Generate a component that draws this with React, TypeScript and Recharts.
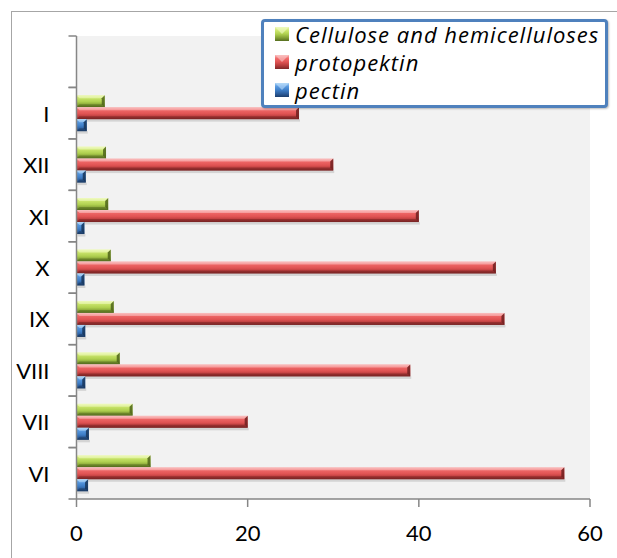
import { Bar, BarChart, CartesianGrid, Legend, XAxis, YAxis } from 'recharts';

// months, top slot is left empty like in the original sheet
const months = ['', 'I', 'XII', 'XI', 'X', 'IX', 'VIII', 'VII', 'VI'];
const cellulose = [null, 3.3, 3.45, 3.7, 4.0, 4.35, 5.05, 6.55, 8.65];
const protopektin = [null, 26, 30, 40, 49, 50, 39, 20, 57];
const pectin = [null, 1.2, 1.08, 0.92, 0.92, 1.02, 1.02, 1.45, 1.35];
const xTicks = [0, 20, 40, 60];

const data = months.map((month, i) => ({
  month,
  cellulose: cellulose[i],
  protopektin: protopektin[i],
  pectin: pectin[i],
}));

type Tone = { id: string; stops: string[]; edge: string; top: string };

const tones: Record<string, Tone> = {
  green: { id: 'gGreen', stops: ['#eaf7b0', '#cde76f', '#afd04f', '#86a337', '#566e1f'], edge: '#4d641a', top: '#f2fbc8' },
  red: { id: 'gRed', stops: ['#f7b4b4', '#f06a6a', '#e05353', '#b63c3c', '#7d2727'], edge: '#6e2020', top: '#fbcaca' },
  blue: { id: 'gBlue', stops: ['#a5d0f4', '#5a9ae0', '#3f7fc8', '#2e5f9e', '#1d3e6c'], edge: '#183559', top: '#bfe0fb' },
};

const series = [
  { key: 'cellulose', label: 'Cellulose and hemicelluloses', tone: tones.green },
  { key: 'protopektin', label: 'protopektin', tone: tones.red },
  { key: 'pectin', label: 'pectin', tone: tones.blue },
];

const FONT = 'Lato, "Open Sans", sans-serif';
const LEGEND_FONT = '"Open Sans", sans-serif';
const AXIS = '#868686';
const Y_TICK_SIZE = 8;
const Y_TICK_MARGIN = 19;

function BevelBar({ x, y, width, height, tone }: any) {
  if (!width || width <= 0 || !height) return null;
  const b = Math.min(3, width / 2);
  return (
    <g>
      <rect x={x + 1} y={y + height} width={width} height={2.5} fill="#000" opacity={0.12} />
      <rect x={x} y={y} width={width} height={height} fill={`url(#${tone.id})`} />
      <polygon points={`${x},${y} ${x + width},${y} ${x + width - b},${y + b} ${x + b},${y + b}`} fill={tone.top} opacity={0.55} />
      <polygon points={`${x + width - b},${y + b} ${x + width},${y} ${x + width},${y + height} ${x + width - b},${y + height - b}`} fill={tone.edge} opacity={0.85} />
      <polygon points={`${x + b},${y + height - b} ${x + width - b},${y + height - b} ${x + width},${y + height} ${x},${y + height}`} fill={tone.edge} opacity={0.45} />
    </g>
  );
}

function MonthTick({ x, y, payload }: any) {
  const half = payload?.offset ?? 25.7;
  const axisX = x + Y_TICK_MARGIN + Y_TICK_SIZE;
  return (
    <g>
      <line x1={axisX - Y_TICK_SIZE} x2={axisX} y1={y - half} y2={y - half} stroke={AXIS} strokeWidth={1.5} />
      <line x1={axisX - Y_TICK_SIZE} x2={axisX} y1={y + half} y2={y + half} stroke={AXIS} strokeWidth={1.5} />
      <text x={x} y={y} textAnchor="end" dominantBaseline="central" fontSize={22} fontFamily={FONT} fill="#000">
        {payload.value}
      </text>
    </g>
  );
}

function LegendBox() {
  return (
    <div
      style={{
        width: 341,
        height: 83,
        border: '3px solid #4f81bd',
        borderRadius: 4,
        background: '#fff',
        boxSizing: 'content-box',
        fontFamily: LEGEND_FONT,
        fontStyle: 'italic',
        fontSize: 22,
        letterSpacing: 1,
        color: '#000',
        boxShadow: '1px 1px 2px rgba(0,0,0,0.25)',
      }}
    >
      <div style={{ marginTop: -2 }}>
        {series.map(item => (
          <div key={item.key} style={{ display: 'flex', alignItems: 'center', height: 28, paddingLeft: 10 }}>
            <svg width={16} height={16} style={{ marginRight: 5, flex: 'none' }}>
              <rect x={1} y={1} width={14} height={14} fill={`url(#${item.tone.id}L)`} />
              <polygon points="1,1 15,1 8,8" fill={item.tone.top} opacity={0.6} />
            </svg>
            <span style={{ whiteSpace: 'nowrap', lineHeight: '28px' }}>{item.label}</span>
          </div>
        ))}
      </div>
    </div>
  );
}

export default function App() {
  return (
    <div style={{ position: 'absolute', left: 0, top: 0, width: 617, height: 558, overflow: 'hidden', background: '#fff' }}>
      <div style={{ position: 'absolute', left: 11, top: 11, width: 700, height: 700, border: '1.5px solid #a6a6a6' }} />
      <svg width={0} height={0} style={{ position: 'absolute' }}>
        <defs>
          {Object.values(tones).map(t => (
            <linearGradient key={t.id} id={`${t.id}L`} x1="0" y1="0" x2="0" y2="1">
              {t.stops.map((c, i) => (
                <stop key={i} offset={`${(i / (t.stops.length - 1)) * 100}%`} stopColor={c} />
              ))}
            </linearGradient>
          ))}
        </defs>
      </svg>
      <div style={{ position: 'absolute', left: 0, top: 0 }}>
        <BarChart
          width={617}
          height={558}
          data={data}
          layout="vertical"
          margin={{ top: 36, right: 27, bottom: 19, left: 0 }}
          barCategoryGap="15%"
          barGap={0}
        >
          <defs>
            {Object.values(tones).map(t => (
              <linearGradient key={t.id} id={t.id} x1="0" y1="0" x2="0" y2="1">
                <stop offset="0%" stopColor={t.stops[0]} />
                <stop offset="20%" stopColor={t.stops[1]} />
                <stop offset="55%" stopColor={t.stops[2]} />
                <stop offset="80%" stopColor={t.stops[3]} />
                <stop offset="100%" stopColor={t.stops[4]} />
              </linearGradient>
            ))}
          </defs>
          <CartesianGrid horizontal={false} vertical={false} fill="#f2f2f2" />
          <XAxis
            type="number"
            domain={[0, 60]}
            ticks={xTicks}
            height={40}
            tickSize={8}
            tickMargin={18}
            axisLine={{ stroke: AXIS, strokeWidth: 1.5 }}
            tickLine={{ stroke: AXIS, strokeWidth: 1.5 }}
            tick={{ fontSize: 22, fontFamily: FONT, fill: '#000' }}
          />
          <YAxis
            type="category"
            dataKey="month"
            width={76.5}
            interval={0}
            tickSize={Y_TICK_SIZE}
            tickMargin={Y_TICK_MARGIN}
            axisLine={{ stroke: AXIS, strokeWidth: 1.5 }}
            tickLine={{ stroke: 'none' }}
            tick={<MonthTick />}
          />
          <Legend
            layout="horizontal"
            verticalAlign="middle"
            align="center"
            content={<LegendBox />}
            wrapperStyle={{ left: 261, top: 19, width: 347, height: 89 }}
          />
          {series.map(item => (
            <Bar
              key={item.key}
              dataKey={item.key}
              name={item.label}
              fill={item.tone.stops[2]}
              isAnimationActive={false}
              shape={(props: any) => <BevelBar {...props} tone={item.tone} />}
            />
          ))}
        </BarChart>
      </div>
    </div>
  );
}
